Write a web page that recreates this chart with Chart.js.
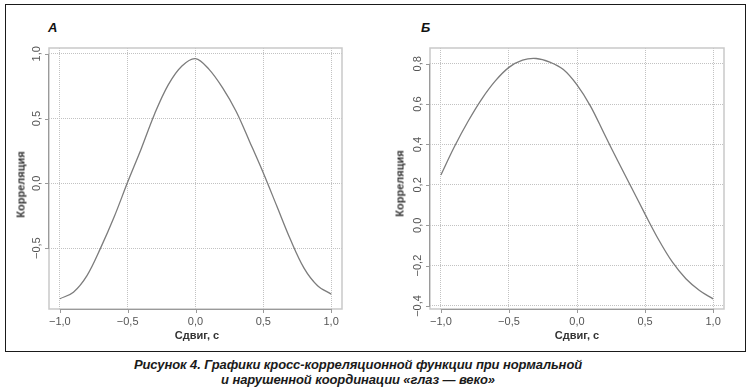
<!DOCTYPE html>
<html>
<head>
<meta charset="utf-8">
<script src="https://cdn.jsdelivr.net/npm/chart.js@4.4.1/dist/chart.umd.min.js"></script>
<style>
html,body{margin:0;padding:0;background:#fff;}
#wrap{position:relative;width:752px;height:390px;overflow:hidden;font-family:"Liberation Sans",Arial,sans-serif;background:#fff;}
#frame{position:absolute;left:5px;top:4px;width:741px;height:348px;border:1px solid #1a1a1a;box-sizing:border-box;}
.cv{position:absolute;top:36px;width:376px;height:314px;}
.letter{position:absolute;top:21px;font:italic bold 13px/13px "Liberation Sans",Arial,sans-serif;color:#111;}
.xt{position:absolute;width:120px;text-align:center;font:bold 11px/13px "Liberation Sans",Arial,sans-serif;color:#333;}
.yt{position:absolute;width:120px;text-align:center;font:bold 11px/13px "Liberation Sans",Arial,sans-serif;color:#333;transform:rotate(-90deg);transform-origin:50% 50%;}
.cap{position:absolute;left:58px;width:600px;text-align:center;font:italic bold 13px/15px "Liberation Sans",Arial,sans-serif;color:#1a1a1a;letter-spacing:-0.1px;}
</style>
</head>
<body>
<div id="wrap">
  <div id="frame"></div>
  <div class="cv" style="left:0px"><canvas id="chartA" width="376" height="314"></canvas></div>
  <div class="cv" style="left:376px"><canvas id="chartB" width="376" height="314"></canvas></div>
  <div class="letter" style="left:48px">А</div>
  <div class="letter" style="left:421px">Б</div>
  <div class="xt" style="left:137px;top:329px">Сдвиг, с</div>
  <div class="xt" style="left:517px;top:329px">Сдвиг, с</div>
  <div class="yt" style="left:-39px;top:178px">Корреляция</div>
  <div class="yt" style="left:340px;top:177px">Корреляция</div>
  <div class="cap" style="top:357px">Рисунок 4. Графики кросс-корреляционной функции при нормальной</div>
  <div class="cap" style="top:372px">и нарушенной координации «глаз — веко»</div>
</div>
<script>
// Shift (lag), seconds
const lag = [-1.0,-0.9,-0.8,-0.7,-0.6,-0.5,-0.4,-0.3,-0.2,-0.1,0.0,0.1,0.2,0.3,0.4,0.5,0.6,0.7,0.8,0.9,1.0];
// Panel A: normal eye-lid coordination
const corrNormal = [-0.891,-0.84,-0.712,-0.50,-0.26,0.01,0.268,0.54,0.762,0.906,0.963,0.88,0.737,0.555,0.32,0.08,-0.177,-0.434,-0.654,-0.79,-0.855];
// Panel B: impaired eye-lid coordination
const corrImpaired = [0.249,0.39,0.515,0.625,0.715,0.782,0.818,0.826,0.808,0.771,0.695,0.589,0.453,0.318,0.187,0.055,-0.072,-0.182,-0.265,-0.323,-0.365];
// Tick values
const xTicks = [-1.0,-0.5,0.0,0.5,1.0];
const yTicksA = [-0.5,0.0,0.5,1.0];
const yTicksB = [-0.4,-0.2,0.0,0.2,0.4,0.6,0.8];

Chart.defaults.font.family = "'Liberation Sans', Arial, sans-serif";

function fmt(v){
  const s = Math.abs(v).toFixed(1).replace('.', ',');
  return (v < -1e-9 ? '\u2212' : '') + s;
}

const rFrame = {
  id: 'rFrame',
  beforeDatasetsDraw(chart){
    const {ctx, chartArea: a, scales: {x, y}} = chart;
    ctx.save();
    ctx.strokeStyle = '#c9c9c9';
    ctx.lineWidth = 1.5;
    ctx.strokeRect(a.left, a.top, a.right - a.left, a.bottom - a.top);
    ctx.strokeStyle = '#9a9a9a';
    ctx.lineWidth = 1;
    const xp = x.ticks.map(t => x.getPixelForValue(t.value));
    const yp = y.ticks.map(t => y.getPixelForValue(t.value));
    ctx.beginPath();
    ctx.moveTo(xp[0], a.bottom + 0.5); ctx.lineTo(xp[xp.length-1], a.bottom + 0.5);
    xp.forEach(p => { ctx.moveTo(Math.round(p)+0.5, a.bottom); ctx.lineTo(Math.round(p)+0.5, a.bottom + 4); });
    ctx.moveTo(a.left - 0.5, yp[0]); ctx.lineTo(a.left - 0.5, yp[yp.length-1]);
    yp.forEach(p => { ctx.moveTo(a.left, Math.round(p)+0.5); ctx.lineTo(a.left - 4, Math.round(p)+0.5); });
    ctx.stroke();
    ctx.restore();
  }
};

function makeChart(id, series, yTicks, ymin, ymax, pad){
  return new Chart(document.getElementById(id), {
    type: 'line',
    data: {
      datasets: [{
        data: lag.map((v, i) => ({x: v, y: series[i]})),
        borderColor: '#7c7c7c',
        borderWidth: 1.3,
        pointRadius: 0,
        tension: 0.35,
        fill: false
      }]
    },
    options: {
      responsive: false,
      animation: false,
      devicePixelRatio: 1,
      layout: {padding: pad},
      plugins: {legend: {display: false}, tooltip: {enabled: false}, title: {display: false}},
      scales: {
        x: {
          type: 'linear', min: -1.08, max: 1.08,
          afterBuildTicks: s => { s.ticks = xTicks.map(v => ({value: v})); },
          afterFit: s => { s.height = 30; },
          grid: {color: '#c2c2c2', lineWidth: 1, drawTicks: false},
          border: {display: false, dash: [1, 1]},
          ticks: {padding: 6, color: '#555', font: {size: 11}, callback: v => fmt(v), maxRotation: 0, autoSkip: false}
        },
        y: {
          type: 'linear', min: ymin, max: ymax,
          afterBuildTicks: s => { s.ticks = yTicks.map(v => ({value: v})); },
          afterFit: s => { s.width = 34; },
          grid: {color: '#c2c2c2', lineWidth: 1, drawTicks: false},
          border: {display: false, dash: [1, 1]},
          ticks: {padding: 1, color: '#555', font: {size: 11}, callback: v => fmt(v), minRotation: 90, maxRotation: 90, crossAlign: 'center', autoSkip: false}
        }
      }
    },
    plugins: [rFrame]
  });
}

makeChart('chartA', corrNormal, yTicksA, -0.97, 1.045, {left: 15, top: 12, right: 34, bottom: 11});
makeChart('chartB', corrImpaired, yTicksB, -0.415, 0.878, {left: 20, top: 12, right: 28, bottom: 11});
</script>
</body>
</html>
